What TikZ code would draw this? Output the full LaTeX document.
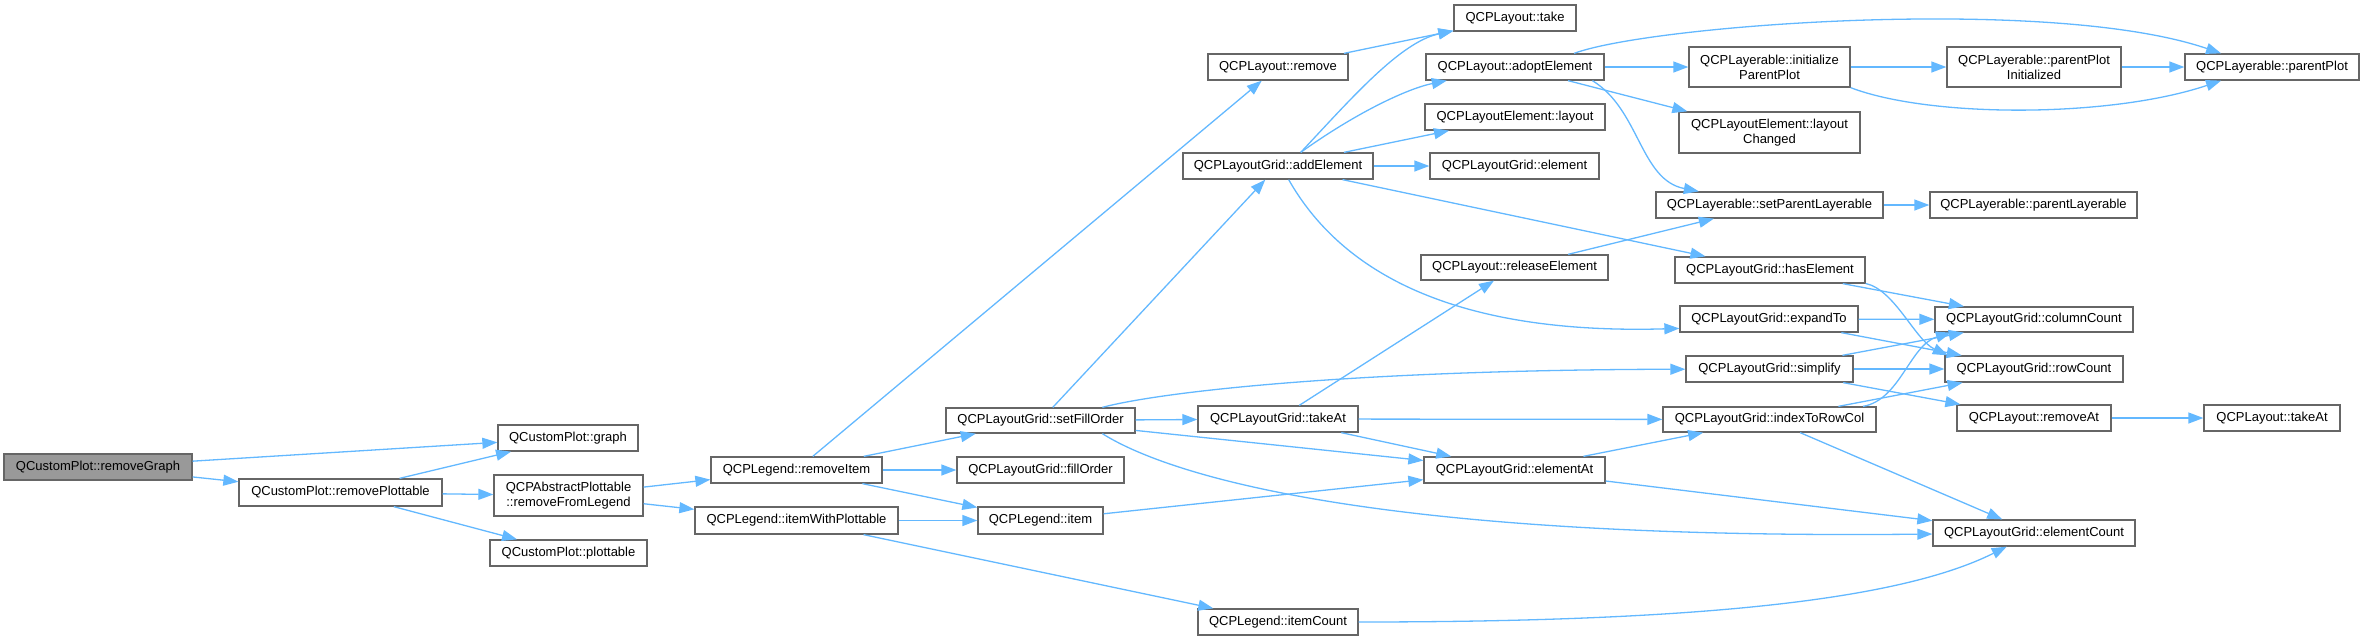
\documentclass[tikz,border=0pt]{standalone}
\usepackage{fontspec}
\setmainfont{Liberation Sans}
\usetikzlibrary{arrows.meta}
\definecolor{edgeblue}{HTML}{63B8FF}
\definecolor{boxgray}{HTML}{666666}
\definecolor{rootfill}{HTML}{999999}
\begin{document}
\begin{tikzpicture}[x=1pt,y=-1pt,
  fn/.style={draw=boxgray, line width=1.3pt, fill=white, inner sep=0pt, align=center,
    font=\fontsize{13}{15}\selectfont, minimum height=26pt},
  root/.style={fn, fill=rootfill},
  call/.style={draw=edgeblue, line width=1.3pt, -{Triangle[length=15pt,width=11pt]}},
]
\useasboundingbox (0,0) rectangle (2364,640);
% column 1
\node[root, minimum width=188pt] (rg) at (98,467) {QCustomPlot::removeGraph};
% column 2
\node[fn, minimum width=203pt, minimum height=27pt] (rp) at (340.5,492.5) {QCustomPlot::removePlottable};
% column 3
\node[fn, minimum width=140pt] (gr) at (568,438) {QCustomPlot::graph};
\node[fn, minimum width=149pt, minimum height=41pt] (rfl) at (568.5,495.5) {QCPAbstractPlottable\\::removeFromLegend};
\node[fn, minimum width=157pt] (pl) at (568.5,553) {QCustomPlot::plottable};
% column 4
\node[fn, minimum width=171pt] (ri) at (796.5,470) {QCPLegend::removeItem};
\node[fn, minimum width=203pt, minimum height=27pt] (iwp) at (796.5,520.5) {QCPLegend::itemWithPlottable};
% column 5
\node[fn, minimum width=189pt, minimum height=25pt] (sfo) at (1040.5,420.5) {QCPLayoutGrid::setFillOrder};
\node[fn, minimum width=167pt] (fo) at (1040.5,470) {QCPLayoutGrid::fillOrder};
\node[fn, minimum width=125pt, minimum height=27pt] (it) at (1040.5,520.5) {QCPLegend::item};
% column 6
\node[fn, minimum width=140pt] (rm) at (1278,67) {QCPLayout::remove};
\node[fn, minimum width=190pt] (ae) at (1278,166) {QCPLayoutGrid::addElement};
\node[fn, minimum width=160pt] (tag) at (1278,419) {QCPLayoutGrid::takeAt};
\node[fn, minimum width=160pt] (ic) at (1278,622) {QCPLegend::itemCount};
% column 7
\node[fn, minimum width=122pt] (tk) at (1515,18) {QCPLayout::take};
\node[fn, minimum width=178pt] (ad) at (1515,67) {QCPLayout::adoptElement};
\node[fn, minimum width=180pt] (lo) at (1515,117) {QCPLayoutElement::layout};
\node[fn, minimum width=169pt] (el) at (1514.5,166) {QCPLayoutGrid::element};
\node[fn, minimum width=187pt, minimum height=25pt] (re) at (1514.5,267.5) {QCPLayout::releaseElement};
\node[fn, minimum width=181pt] (ea) at (1514.5,470) {QCPLayoutGrid::elementAt};
% column 8
\node[fn, minimum width=161pt, minimum height=40pt] (ipp) at (1769.5,67) {QCPLayerable::initialize\\ParentPlot};
\node[fn, minimum width=181pt, minimum height=41pt] (lc) at (1769.5,132.5) {QCPLayoutElement::layout\\Changed};
\node[fn, minimum width=227pt] (spl) at (1769.5,205) {QCPLayerable::setParentLayerable};
\node[fn, minimum width=190pt] (he) at (1770,270) {QCPLayoutGrid::hasElement};
\node[fn, minimum width=178pt] (et) at (1769,319) {QCPLayoutGrid::expandTo};
\node[fn, minimum width=167pt] (sm) at (1769.5,369) {QCPLayoutGrid::simplify};
\node[fn, minimum width=213pt, minimum height=25pt] (itr) at (1769.5,419.5) {QCPLayoutGrid::indexToRowCol};
% column 9
\node[fn, minimum width=174pt, minimum height=40pt] (ppi) at (2034,67) {QCPLayerable::parentPlot\\Initialized};
\node[fn, minimum width=207pt] (pla) at (2033.5,205) {QCPLayerable::parentLayerable};
\node[fn, minimum width=198pt, minimum height=25pt] (cc) at (2034,319.5) {QCPLayoutGrid::columnCount};
\node[fn, minimum width=178pt] (rc) at (2034,369) {QCPLayoutGrid::rowCount};
\node[fn, minimum width=154pt] (ra) at (2034,418) {QCPLayout::removeAt};
\node[fn, minimum width=202pt] (ec) at (2034,533) {QCPLayoutGrid::elementCount};
% column 10
\node[fn, minimum width=174pt] (pp) at (2272,67) {QCPLayerable::parentPlot};
\node[fn, minimum width=136pt] (tal) at (2272,418) {QCPLayout::takeAt};

% straight calls
\draw[call] (rg) -- (gr);
\draw[call] (rg) -- (rp);
\draw[call] (rp) -- (gr);
\draw[call] (rp) -- (rfl);
\draw[call] (rp) -- (pl);
\draw[call] (rfl) -- (ri);
\draw[call] (rfl) -- (iwp);
\draw[call] (ri) -- (rm);
\draw[call] (ri) -- (sfo);
\draw[call] (ri) -- (fo);
\draw[call] (ri) -- (it);
\draw[call] (iwp) -- (it);
\draw[call] (iwp) -- (ic);
\draw[call] (rm) -- (tk);
\draw[call] (sfo) -- (ae);
\draw[call] (sfo) -- (tag);
\draw[call] (sfo) -- (ea);
\draw[call] (tag) -- (re);
\draw[call] (tag) -- (itr);
\draw[call] (tag) -- (ea);
\draw[call] (it) -- (ea);
\draw[call] (ae) -- (lo);
\draw[call] (ae) -- (el);
\draw[call] (ae) -- (he);
\draw[call] (ad) -- (ipp);
\draw[call] (ad) -- (lc);
\draw[call] (re) -- (spl);
\draw[call] (ipp) -- (ppi);
\draw[call] (ppi) -- (pp);
\draw[call] (spl) -- (pla);
\draw[call] (he) -- (cc);
\draw[call] (et) -- (cc);
\draw[call] (et) -- (rc);
\draw[call] (sm) -- (cc);
\draw[call] (sm) -- (rc);
\draw[call] (sm) -- (ra);
\draw[call] (itr) -- (rc);
\draw[call] (itr) -- (ec);
\draw[call] (ea) -- (itr);
\draw[call] (ea) -- (ec);
\draw[call] (ra) -- (tal);

% curved calls
\draw[call] (ae.31) .. controls (1350,100) and (1400,42) .. (tk);
\draw[call] (ae.31) .. controls (1360,110) and (1410,88) .. (ad);
\draw[call] (ae.-52) .. controls (1340,270) and (1450,335) .. (et.186);
\draw[call] (sfo.12) .. controls (1160,392) and (1350,370) .. (sm);
\draw[call] (sfo.-12) .. controls (1160,470) and (1350,540) .. (ec);
\draw[call] (ad.13) .. controls (1650,25) and (2050,-5) .. (pp.165);
\draw[call] (ipp.south east) .. controls (1930,118) and (2110,118) .. (pp.195);
\draw[call] (ad.-10) .. controls (1640,110) and (1640,180) .. (spl);
\draw[call] (he.-8) .. controls (1895,290) and (1915,340) .. (rc.171);
\draw[call] (itr.8) .. controls (1900,400) and (1910,345) .. (cc.189);
\draw[call] (ic) .. controls (1700,622) and (1900,600) .. (ec);
\end{tikzpicture}
\end{document}
